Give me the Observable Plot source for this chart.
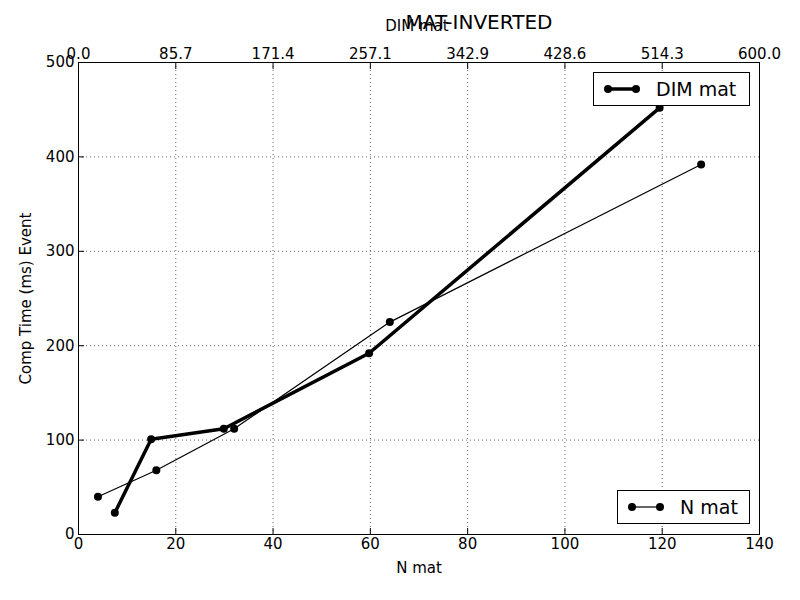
<!DOCTYPE html>
<html><head><meta charset="utf-8">
<script src="https://cdn.jsdelivr.net/npm/d3@7"></script>
<script src="https://cdn.jsdelivr.net/npm/@observablehq/plot@0.6"></script>
<style>
body{margin:0;background:#fff;font-family:"DejaVu Sans",sans-serif}
#wrap{position:relative;width:800px;height:600px}
.leg{position:absolute;background:#fff;border:1px solid #000;font-size:19px;display:flex;align-items:center;padding:0 6px 0 8px;height:34px;box-sizing:border-box}
.leg svg{margin-right:14px}
</style></head>
<body><div id="wrap"></div>
<script>
const nMat = [4, 16, 32, 64, 128];
const nTime = [40, 68, 112, 225, 392];
const dimMat = [32, 64, 128, 256, 512];
const dimTime = [23, 101, 112, 192, 452];

const k = 140 / 600; // top axis (0-600) onto bottom axis (0-140)
const nData = nMat.map((x, i) => ({x, y: nTime[i]}));
const dimData = dimMat.map((x, i) => ({x: x * k, y: dimTime[i]}));

const chart = Plot.plot({
  width: 800, height: 600,
  marginLeft: 78, marginRight: 41, marginTop: 62, marginBottom: 66,
  style: {fontFamily: "DejaVu Sans", fontSize: "15px", color: "#000"},
  x: {domain: [0, 140], ticks: d3.range(0, 141, 20), label: null},
  y: {domain: [0, 500], ticks: d3.range(0, 501, 100), label: null},
  marks: [
    Plot.gridX(d3.range(0, 141, 20), {stroke: "#000", strokeOpacity: 0.6, strokeDasharray: "1,3"}),
    Plot.gridY(d3.range(0, 501, 100), {stroke: "#000", strokeOpacity: 0.6, strokeDasharray: "1,3"}),
    Plot.axisX({anchor: "bottom", ticks: d3.range(0, 141, 20), tickSize: -6, tickPadding: 10,
      label: "N mat", labelAnchor: "center", labelArrow: "none", labelOffset: 38}),
    Plot.axisX({anchor: "top", ticks: d3.range(0, 141, 20), tickSize: -6, tickPadding: 10,
      tickFormat: d => (d / k).toFixed(1), label: null}),
    Plot.axisY({ticks: d3.range(0, 501, 100), tickSize: -6, tickPadding: 10,
      label: "Comp Time (ms) Event", labelAnchor: "center", labelArrow: "none", labelOffset: 58}),
    Plot.frame({stroke: "#000"}),
    Plot.line(nData, {x: "x", y: "y", stroke: "#000", strokeWidth: 1.2}),
    Plot.dot(nData, {x: "x", y: "y", fill: "#000", r: 4}),
    Plot.line(dimData, {x: "x", y: "y", stroke: "#000", strokeWidth: 3.5}),
    Plot.dot(dimData, {x: "x", y: "y", fill: "#000", r: 4}),
    Plot.text(["MAT-INVERTED"], {frameAnchor: "top", dy: -48, dx: 60, fontSize: 20}),
    Plot.text(["DIM mat"], {frameAnchor: "top", dy: -42, dx: -2, fontSize: 15})
  ]
});
const wrap = document.getElementById("wrap");
wrap.append(chart);

function legend(label, w, top, left, width) {
  const d = document.createElement("div");
  d.className = "leg";
  d.style.top = top + "px"; d.style.left = left + "px"; d.style.width = width + "px";
  d.innerHTML = `<svg width="40" height="12"><line x1="6" y1="6" x2="34" y2="6" stroke="#000" stroke-width="${w}"/>` +
    `<circle cx="6" cy="6" r="4"/><circle cx="34" cy="6" r="4"/></svg>${label}`;
  wrap.append(d);
}
legend("DIM mat", 3.5, 72, 593, 157);
legend("N mat", 1.2, 490, 617, 133);
</script></body></html>
